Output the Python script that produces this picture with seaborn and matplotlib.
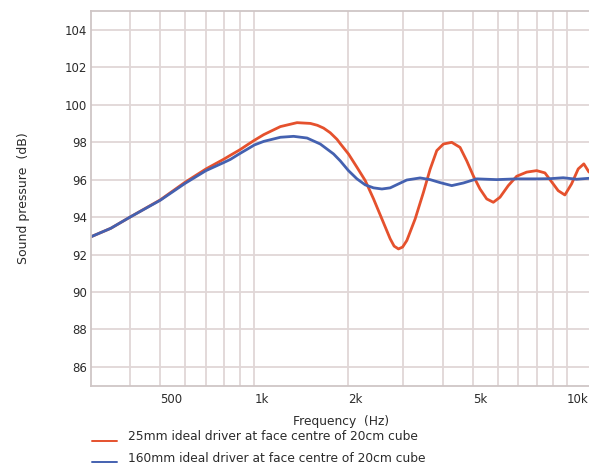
import numpy as np
import pandas as pd
import matplotlib
matplotlib.use("Agg")
import matplotlib.pyplot as plt
import seaborn as sns

# ---- data ----
freq_25 = [300, 347, 400, 500, 600, 700, 800, 838, 900, 948, 1000, 1071, 1211,
           1369, 1510, 1590, 1665, 1749, 1838, 1883, 2000, 2129, 2263, 2406, 2559,
           2720, 2800, 2891, 2980, 3075, 3269, 3475, 3650, 3834, 4026, 4281, 4551,
           4782, 5019, 5272, 5539, 5816, 6109, 6493, 6909, 7436, 8003, 8505, 9040,
           9380, 9853, 10350, 10870, 11330, 11770]
spl_25 = [92.95, 93.4, 94.0, 94.92, 95.86, 96.57, 97.1, 97.3, 97.6, 97.85, 98.1,
          98.4, 98.83, 99.04, 99.0, 98.9, 98.75, 98.5, 98.15, 97.92, 97.37, 96.66,
          95.95, 94.97, 93.9, 92.84, 92.45, 92.3, 92.4, 92.75, 93.9, 95.32, 96.55,
          97.55, 97.9, 97.99, 97.72, 97.0, 96.2, 95.5, 94.97, 94.79, 95.06, 95.68,
          96.18, 96.4, 96.48, 96.36, 95.77, 95.41, 95.18, 95.77, 96.57, 96.84, 96.4]

freq_160 = [300, 347, 400, 500, 600, 700, 800, 838, 900, 948, 1000, 1071, 1211,
            1335, 1474, 1625, 1792, 1883, 2000, 2129, 2263, 2406, 2559, 2720, 2891,
            3075, 3391, 3650, 3929, 4281, 4664, 5146, 5963, 6909, 8003, 8825, 9730,
            10740, 11770]
spl_160 = [92.95, 93.4, 94.0, 94.9, 95.8, 96.48, 96.92, 97.08, 97.4, 97.62,
           97.85, 98.04, 98.26, 98.31, 98.22, 97.9, 97.37, 97.0, 96.48, 96.04,
           95.72, 95.56, 95.5, 95.56, 95.77, 95.98, 96.09, 96.0, 95.84, 95.68,
           95.82, 96.04, 96.0, 96.04, 96.04, 96.05, 96.1, 96.02, 96.07]

labels = ["25mm ideal driver at face centre of 20cm cube",
          "160mm ideal driver at face centre of 20cm cube"]
major_ticks = [500, 1000, 2000, 5000, 10000]
major_labels = ["500", "1k", "2k", "5k", "10k"]
minor_ticks = [400, 600, 700, 800, 900, 3000, 4000, 6000, 7000, 8000, 9000]
y_ticks = [86, 88, 90, 92, 94, 96, 98, 100, 102, 104]

df = pd.concat([
    pd.DataFrame({"f": freq_25, "spl": spl_25, "series": labels[0]}),
    pd.DataFrame({"f": freq_160, "spl": spl_160, "series": labels[1]}),
])

sns.set_theme(style="white")
plt.rcParams["font.family"] = ["DejaVu Sans"]

W, H = 589, 471
fig = plt.figure(figsize=(W / 100, H / 100), dpi=100)
ax = fig.add_axes([91 / W, 1 - 385.7 / H, 1 - 91 / W, (385.7 - 11) / H])

red = "#e5512d"
blue = "#4461b0"
sns.lineplot(data=df, x="f", y="spl", hue="series", palette=[red, blue],
             sort=False, linewidth=2.0, ax=ax, legend=False, estimator=None)
for ln in ax.lines:
    ln.set_solid_joinstyle("round")
    ln.set_solid_capstyle("round")

ax.set_xscale("log")
ax.set_xlim(300, 11770)
ax.set_ylim(85, 105)

grid_c = "#e0d7d7"
ax.set_xticks(major_ticks)
ax.set_xticklabels(major_labels)
ax.set_xticks(minor_ticks, minor=True)
ax.set_xticklabels([], minor=True)
ax.set_yticks(y_ticks)
ax.grid(True, which="both", axis="x", color=grid_c, linewidth=1.3)
ax.grid(True, which="major", axis="y", color=grid_c, linewidth=1.3)
ax.set_axisbelow(True)

ax.tick_params(axis="both", which="both", length=0, labelsize=8.5,
               labelcolor="#2b2b2b")
ax.tick_params(axis="x", pad=5)
ax.tick_params(axis="y", pad=3)
for t in ax.get_xticklabels():
    t.set_horizontalalignment("left")

for s in ["left", "bottom", "top"]:
    ax.spines[s].set_color("#cfc6c6")
    ax.spines[s].set_linewidth(1.3)
ax.spines["right"].set_visible(False)

ax.set_xlabel("")
ax.set_ylabel("Sound pressure  (dB)", fontsize=9, color="#2b2b2b", labelpad=25)

fig.text(341 / W, 1 - 422 / H, "Frequency  (Hz)", ha="center", va="center",
         fontsize=8.8, color="#2b2b2b")

for i, (lab, c) in enumerate(zip(labels, [red, blue])):
    yl = 1 - (441 + 21 * i) / H
    yt = 1 - (437 + 22 * i) / H
    fig.add_artist(plt.Line2D([92 / W, 117 / W], [yl, yl], color=c,
                              linewidth=1.4, transform=fig.transFigure))
    fig.text(128 / W, yt, lab, ha="left", va="center", fontsize=8.8,
             color="#2b2b2b")

fig.savefig("out.png", dpi=100)
